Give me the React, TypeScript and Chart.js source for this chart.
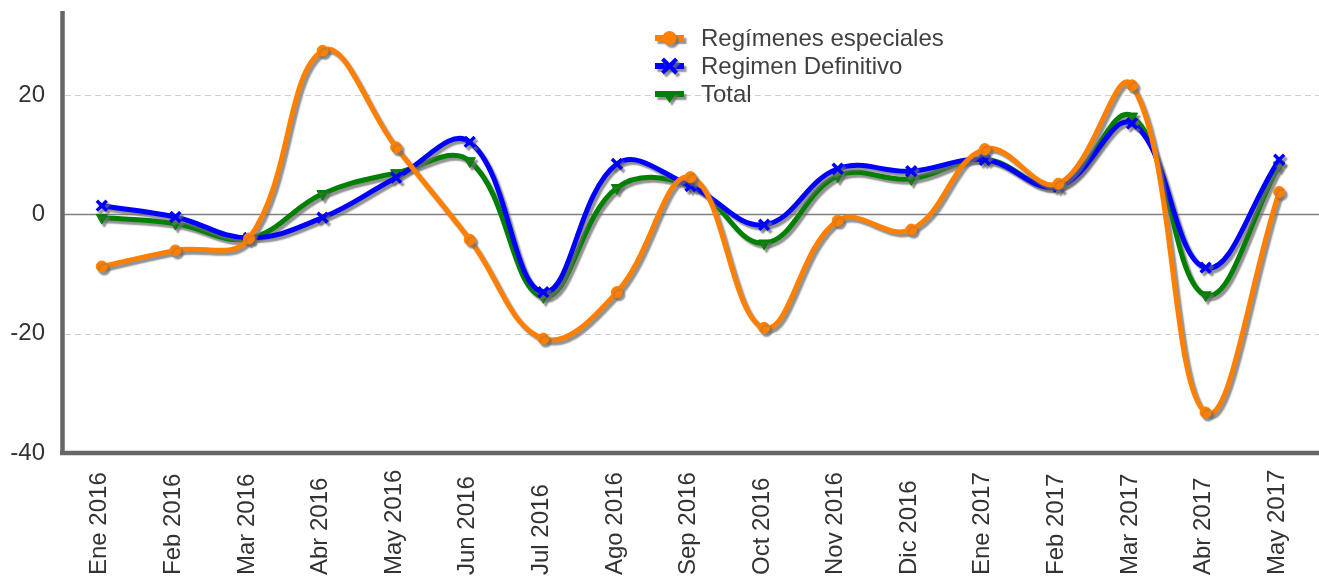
import React, { useEffect, useRef } from "react";
import { Chart, registerables } from "chart.js";

Chart.register(...registerables);

const categories = [
  "Ene 2016", "Feb 2016", "Mar 2016", "Abr 2016", "May 2016", "Jun 2016",
  "Jul 2016", "Ago 2016", "Sep 2016", "Oct 2016", "Nov 2016", "Dic 2016",
  "Ene 2017", "Feb 2017", "Mar 2017", "Abr 2017", "May 2017",
];

const regimenesEspeciales = [-8.7, -6.0, -4.0, 27.5, 11.3, -4.2, -20.8, -13.0, 6.3, -19.0, -1.0, -2.5, 11.0, 5.2, 21.7, -33.2, 3.8];
const regimenDefinitivo = [1.5, -0.4, -3.9, -0.5, 6.2, 12.2, -13.0, 8.5, 4.8, -1.7, 7.7, 7.3, 9.2, 4.7, 15.3, -8.9, 9.2];
const total = [-0.5, -1.5, -4.0, 3.5, 7.0, 9.0, -13.8, 4.5, 4.8, -4.8, 6.5, 6.0, 9.3, 4.7, 16.5, -13.5, 8.3];

const yTicks = [-40, -20, 0, 20];
const gridDashed = [-20, 20];

const FONT = "Arial, 'Liberation Sans', sans-serif";
const TEXT_COLOR = "#404040";
const FONT_SIZE = 24;

const seriesStyle = [
  { label: "Regímenes especiales", color: "#FF8000", pointStyle: "circle", radius: 5.5, pointBorderWidth: 1 },
  { label: "Regimen Definitivo", color: "#0000FF", pointStyle: "crossRot", radius: 7, pointBorderWidth: 3.5 },
  { label: "Total", color: "#008000", pointStyle: "triangle", radius: 6.5, pointBorderWidth: 1, rotation: 180 },
];

const setShadow = (ctx: CanvasRenderingContext2D) => {
  ctx.shadowColor = "rgba(110,110,110,0.75)";
  ctx.shadowOffsetX = 2.5;
  ctx.shadowOffsetY = 3;
  ctx.shadowBlur = 1.5;
};

const shadowPlugin = {
  id: "shadowPlugin",
  beforeDatasetDraw(chart: any) {
    chart.ctx.save();
    setShadow(chart.ctx);
  },
  afterDatasetDraw(chart: any) {
    chart.ctx.restore();
  },
};

const backgroundPlugin = {
  id: "backgroundPlugin",
  beforeDatasetsDraw(chart: any) {
    const { ctx, chartArea, scales } = chart;
    const y = scales.y;
    ctx.save();
    ctx.strokeStyle = "#d0d0d0";
    ctx.lineWidth = 1;
    ctx.setLineDash([6, 4]);
    gridDashed.forEach((v) => {
      const py = Math.round(y.getPixelForValue(v)) + 0.5;
      ctx.beginPath();
      ctx.moveTo(chartArea.left, py);
      ctx.lineTo(chartArea.right + 3, py);
      ctx.stroke();
    });
    ctx.setLineDash([]);
    ctx.strokeStyle = "#808080";
    ctx.lineWidth = 1.5;
    const p0 = y.getPixelForValue(0);
    ctx.beginPath();
    ctx.moveTo(chartArea.left - 3, p0);
    ctx.lineTo(chartArea.right + 3, p0);
    ctx.stroke();
    ctx.strokeStyle = "#666666";
    ctx.lineWidth = 4.5;
    ctx.beginPath();
    ctx.moveTo(62.5, chartArea.top - 1);
    ctx.lineTo(62.5, chartArea.bottom + 2);
    ctx.stroke();
    ctx.beginPath();
    ctx.moveTo(60, chartArea.bottom);
    ctx.lineTo(1319, chartArea.bottom);
    ctx.stroke();
    ctx.restore();
  },
  afterDraw(chart: any) {
    const { ctx, scales } = chart;
    const x = scales.x;
    ctx.save();
    ctx.fillStyle = "#333333";
    ctx.font = `${FONT_SIZE}px ${FONT}`;
    ctx.textAlign = "left";
    ctx.textBaseline = "middle";
    categories.forEach((lab, i) => {
      const px = x.getPixelForValue(i) - 2;
      ctx.save();
      ctx.translate(px, 575);
      ctx.rotate(-Math.PI / 2);
      ctx.fillText(lab, 0, 0);
      ctx.restore();
    });
    const lx = 655;
    const rows = [38, 66, 94];
    seriesStyle.forEach((s, i) => {
      const ry = rows[i];
      ctx.save();
      setShadow(ctx);
      ctx.strokeStyle = s.color;
      ctx.fillStyle = s.color;
      ctx.lineWidth = 6;
      ctx.beginPath();
      ctx.moveTo(lx, ry);
      ctx.lineTo(lx + 29, ry);
      ctx.stroke();
      const cx = lx + 14.5;
      if (s.pointStyle === "circle") {
        ctx.beginPath();
        ctx.arc(cx, ry, 7, 0, Math.PI * 2);
        ctx.fill();
      } else if (s.pointStyle === "crossRot") {
        ctx.lineWidth = 4;
        const r = 7;
        ctx.beginPath();
        ctx.moveTo(cx - r, ry - r);
        ctx.lineTo(cx + r, ry + r);
        ctx.moveTo(cx + r, ry - r);
        ctx.lineTo(cx - r, ry + r);
        ctx.stroke();
      } else {
        ctx.beginPath();
        ctx.moveTo(cx - 7, ry - 2);
        ctx.lineTo(cx + 7, ry - 2);
        ctx.lineTo(cx, ry + 9);
        ctx.closePath();
        ctx.fill();
      }
      ctx.restore();
      ctx.fillStyle = TEXT_COLOR;
      ctx.font = `${FONT_SIZE}px ${FONT}`;
      ctx.textAlign = "left";
      ctx.textBaseline = "middle";
      ctx.fillText(s.label, 701, ry + 1);
    });
    ctx.restore();
  },
};

export default function App() {
  const canvasRef = useRef<HTMLCanvasElement | null>(null);

  useEffect(() => {
    if (!canvasRef.current) return;
    const seriesData = [regimenesEspeciales, regimenDefinitivo, total];
    const chart = new Chart(canvasRef.current, {
      type: "line",
      data: {
        labels: categories,
        datasets: seriesStyle.map((s, i) => ({
          label: s.label,
          data: seriesData[i],
          borderColor: s.color,
          backgroundColor: s.color,
          borderWidth: 5,
          tension: 0.4,
          pointStyle: s.pointStyle as any,
          pointRadius: s.radius,
          pointBorderWidth: s.pointBorderWidth,
          pointRotation: (s as any).rotation || 0,
          pointBackgroundColor: s.color,
          pointBorderColor: s.color,
          fill: false,
          clip: false as any,
        })),
      },
      options: {
        responsive: false,
        animation: false,
        layout: { autoPadding: false, padding: { top: 12, right: 3, left: 0, bottom: 0 } },
        plugins: {
          legend: { display: false },
          tooltip: { enabled: false },
        },
        scales: {
          x: {
            type: "category",
            offset: true,
            grid: { display: false },
            border: { display: false },
            ticks: { display: false },
            afterFit(scale: any) {
              scale.height = 127;
              scale.paddingLeft = 0;
              scale.paddingRight = 0;
            },
          },
          y: {
            min: -40,
            max: 34,
            grid: { display: false, drawTicks: false },
            border: { display: false },
            afterBuildTicks(scale: any) {
              scale.ticks = yTicks.map((v) => ({ value: v }));
            },
            ticks: {
              color: "#333333",
              font: { size: FONT_SIZE, family: FONT },
              padding: 20,
            },
            afterFit(scale: any) {
              scale.width = 65;
              scale.paddingTop = 0;
              scale.paddingBottom = 0;
            },
          },
        },
      },
      plugins: [shadowPlugin, backgroundPlugin],
    });
    return () => chart.destroy();
  }, []);

  return (
    <div style={{ position: "fixed", left: 0, top: 0, width: 1319, height: 580, background: "#fff" }}>
      <canvas ref={canvasRef} width={1319} height={580} style={{ display: "block" }} />
    </div>
  );
}
